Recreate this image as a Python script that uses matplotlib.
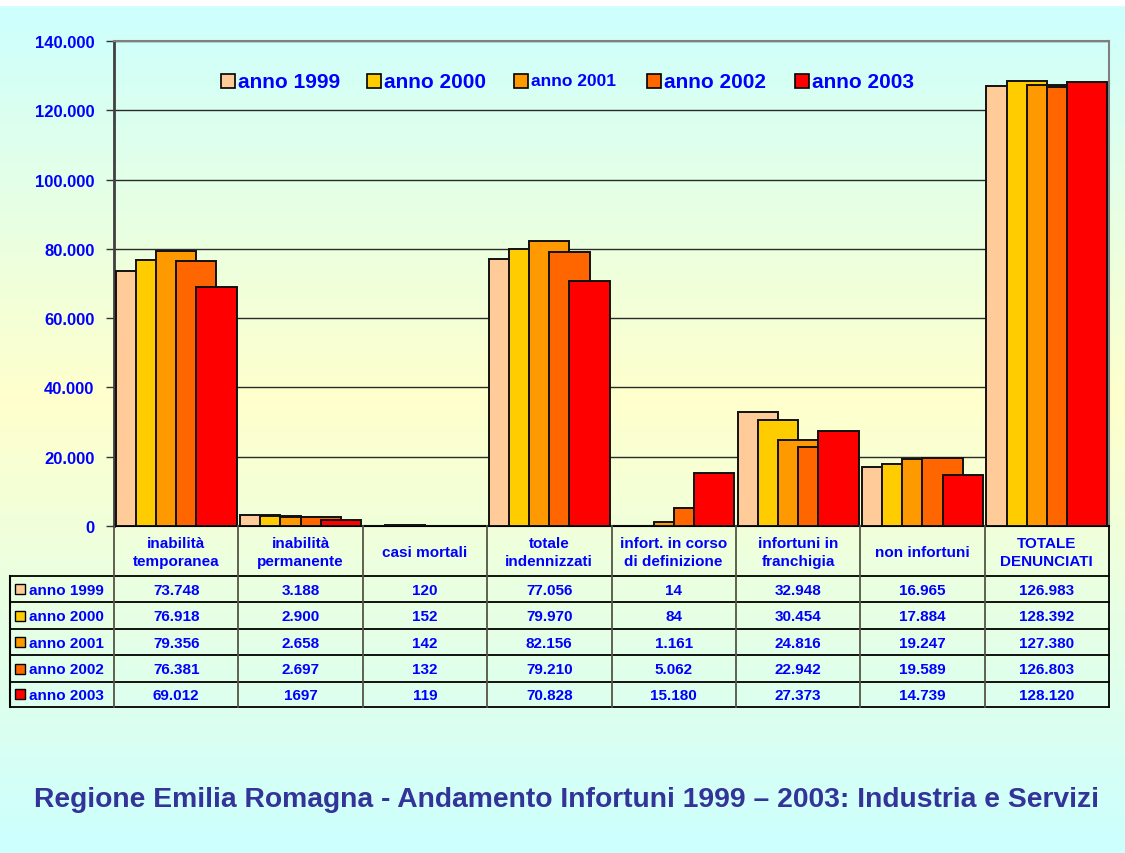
import numpy as np
import matplotlib
matplotlib.use("Agg")
import matplotlib.pyplot as plt
from matplotlib.patches import Rectangle
from matplotlib.lines import Line2D

plt.rcParams['font.family'] = ['Liberation Sans', 'DejaVu Sans']
plt.rcParams['font.weight'] = 'bold'

# ---------------- data ----------------
categories = ["inabilità\ntemporanea", "inabilità\npermanente", "casi mortali",
              "totale\nindennizzati", "infort. in corso\ndi definizione",
              "infortuni in\nfranchigia", "non infortuni", "TOTALE\nDENUNCIATI"]
years = ["anno 1999", "anno 2000", "anno 2001", "anno 2002", "anno 2003"]
v1999 = [73748, 3188, 120, 77056, 14, 32948, 16965, 126983]
v2000 = [76918, 2900, 152, 79970, 84, 30454, 17884, 128392]
v2001 = [79356, 2658, 142, 82156, 1161, 24816, 19247, 127380]
v2002 = [76381, 2697, 132, 79210, 5062, 22942, 19589, 126803]
v2003 = [69012, 1697, 119, 70828, 15180, 27373, 14739, 128120]
table_text = [
    ["73.748", "3.188", "120", "77.056", "14", "32.948", "16.965", "126.983"],
    ["76.918", "2.900", "152", "79.970", "84", "30.454", "17.884", "128.392"],
    ["79.356", "2.658", "142", "82.156", "1.161", "24.816", "19.247", "127.380"],
    ["76.381", "2.697", "132", "79.210", "5.062", "22.942", "19.589", "126.803"],
    ["69.012", "1697", "119", "70.828", "15.180", "27.373", "14.739", "128.120"],
]
series = [v1999, v2000, v2001, v2002, v2003]
colors = ["#FFCC99", "#FFCC00", "#FF9900", "#FF6600", "#FF0000"]
legend_sizes = [15, 15, 12.5, 15, 15]
title = "Regione Emilia Romagna - Andamento Infortuni 1999 \u2013 2003: Industria e Servizi"

W, H = 1125, 854
BLUE = "#0000FF"

fig = plt.figure(figsize=(W / 100, H / 100), dpi=100)

def fx(x):
    return x / W

def fy(y):
    return 1 - y / H

# ---------------- background gradient ----------------
bg = fig.add_axes([0, 0, 1, 1], zorder=-10)
cyan = np.array([204, 255, 255]) / 255
yellow = np.array([255, 255, 204]) / 255
peak = 400
grad = np.zeros((H, 1, 3))
for y in range(H):
    if y <= peak:
        t = y / peak
    else:
        t = 1 - (y - peak) / (H - peak)
    grad[y, 0] = cyan * (1 - t) + yellow * t
bg.imshow(grad, aspect='auto', extent=[0, 1, 0, 1], origin='upper')
bg.add_patch(Rectangle((0, 1 - 6 / H), 1, 6 / H, color='white', transform=bg.transAxes))
bg.set_axis_off()

# ---------------- main bar axes ----------------
L, R, T, B = 114, 1109, 42, 527
ax = fig.add_axes([fx(L), fy(B), fx(R - L), (B - T) / H])
ax.set_facecolor('none')
x = np.arange(len(categories))
w = 0.324
step = w / 2
for i, (vals, c) in enumerate(zip(series, colors)):
    ax.bar(x + (i - 2) * step, vals, width=w, color=c, edgecolor='#111111',
           linewidth=1.4, zorder=3 + i)
ax.set_xlim(-0.5, len(categories) - 0.5)
ax.set_ylim(0, 140000)
yt = np.arange(0, 140001, 20000)
ax.set_yticks(yt)
ax.set_yticklabels([f"{v:,.0f}".replace(",", ".") for v in yt],
                   color=BLUE, fontsize=12, fontweight='bold')
ax.set_xticks([])
ax.tick_params(axis='y', length=6, width=1, color='#333333', pad=8)
ax.yaxis.grid(True, color='#2a2a2a', linewidth=1)
ax.set_axisbelow(True)
ax.spines['top'].set_color('#808080')
ax.spines['top'].set_linewidth(1.5)
ax.spines['right'].set_color('#808080')
ax.spines['right'].set_linewidth(1.5)
ax.spines['left'].set_color('#404040')
ax.spines['left'].set_linewidth(2)
ax.spines['bottom'].set_color('black')
ax.spines['bottom'].set_linewidth(1.5)

# ---------------- legend (manual, inside plot) ----------------
leg_sq_x = [221, 367, 514, 647, 795]
leg_y = 82
for sx, lab, c, fs in zip(leg_sq_x, years, colors, legend_sizes):
    fig.patches.append(Rectangle((fx(sx), fy(leg_y + 7)), 14 / W, 14 / H,
                                 facecolor=c, edgecolor='black', linewidth=1.2,
                                 transform=fig.transFigure, zorder=20))
    fig.text(fx(sx + 17), fy(leg_y), lab, color=BLUE, fontsize=fs,
             fontweight='bold', ha='left', va='center', zorder=20)

# ---------------- data table ----------------
TL, TB = 10, 708
tax = fig.add_axes([fx(TL), fy(TB), fx(R - TL), (TB - B) / H])
tax.set_facecolor('none')
tax.set_xlim(TL, R)
tax.set_ylim(TB, B)
tax.set_axis_off()
colw = (R - L) / len(categories)
row_edges = [577, 603.3, 630, 656.4, 682.7, 708]
for ye in row_edges:
    tax.add_line(Line2D([TL, R], [ye, ye], color='black', lw=1.3, clip_on=False))
for k in range(len(categories) + 1):
    xv = L + k * colw
    col = 'black' if k == len(categories) else '#555544'
    tax.add_line(Line2D([xv, xv], [B, TB], color=col, lw=1.3, clip_on=False))
tax.add_line(Line2D([TL, TL], [row_edges[0], TB], color='black', lw=1.5, clip_on=False))
for k, cat in enumerate(categories):
    tax.text(L + (k + 0.5) * colw, (B + row_edges[0]) / 2 + 1, cat, color=BLUE,
             fontsize=11, fontweight='bold', ha='center', va='center',
             linespacing=1.3)
for r, (lab, c) in enumerate(zip(years, colors)):
    yc = (row_edges[r] + row_edges[r + 1]) / 2
    tax.add_patch(Rectangle((15, yc - 5), 10, 10, facecolor=c, edgecolor='black',
                            linewidth=1.0, clip_on=False))
    tax.text(29, yc + 0.5, lab, color=BLUE, fontsize=11, fontweight='bold',
             ha='left', va='center')
    for k in range(len(categories)):
        tax.text(L + (k + 0.5) * colw, yc + 0.5, table_text[r][k], color=BLUE,
                 fontsize=11, fontweight='bold', ha='center', va='center')

# ---------------- title ----------------
fig.text(fx(566), fy(800), title, color='#333399', fontsize=20.3,
         fontweight='bold', ha='center', va='center')

fig.savefig("out.png", dpi=100)
